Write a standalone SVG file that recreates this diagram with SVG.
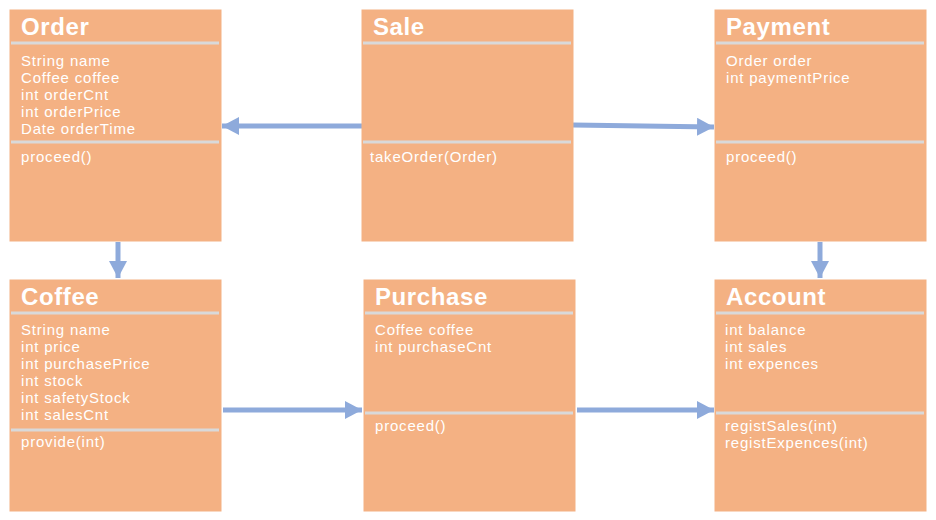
<svg xmlns="http://www.w3.org/2000/svg" width="936" height="520" viewBox="0 0 936 520">
<style>
.box{fill:#f4b183;stroke:#f4b183;stroke-width:1}
.div{stroke:#d9d9d9;stroke-width:3}
.title{font-family:"Liberation Sans",Arial,sans-serif;font-weight:bold;font-size:24px;fill:#ffffff;letter-spacing:0.6px}
.txt{font-family:"Liberation Sans",Arial,sans-serif;font-size:15px;fill:#ffffff;letter-spacing:0.8px}
.con{stroke:#8eaadb;stroke-width:5;fill:none;marker-end:url(#ah)}
</style>
<defs>
<marker id="ah" viewBox="0 0 10 10" refX="10" refY="5" markerWidth="3.4" markerHeight="3.6" orient="auto" markerUnits="strokeWidth" preserveAspectRatio="none">
<path d="M0,0 L10,5 L0,10 Z" fill="#8eaadb"/>
</marker>
</defs>
<g id="connectors">
<line class="con" x1="362" y1="126" x2="222" y2="126"/>
<line class="con" x1="573" y1="125" x2="714" y2="127"/>
<line class="con" x1="118" y1="242" x2="118" y2="278"/>
<line class="con" x1="820" y1="242" x2="820" y2="278"/>
<line class="con" x1="223" y1="410" x2="362" y2="410"/>
<line class="con" x1="577" y1="410" x2="714" y2="410"/>
</g>
<g id="order">
<rect class="box" x="10" y="10" width="211" height="231"/>
<line class="div" x1="11" y1="43" x2="219" y2="43"/>
<line class="div" x1="11" y1="142" x2="219" y2="142"/>
<text class="title" x="21" y="35">Order</text>
<text class="txt" x="21" y="66">String name</text>
<text class="txt" x="21" y="83">Coffee coffee</text>
<text class="txt" x="21" y="100">int orderCnt</text>
<text class="txt" x="21" y="117">int orderPrice</text>
<text class="txt" x="21" y="134">Date orderTime</text>
<text class="txt" x="21" y="162">proceed()</text>
</g>
<g id="sale">
<rect class="box" x="362" y="10" width="211" height="231"/>
<line class="div" x1="363" y1="43" x2="571" y2="43"/>
<line class="div" x1="363" y1="142" x2="571" y2="142"/>
<text class="title" x="373" y="35">Sale</text>
<text class="txt" x="370" y="162">takeOrder(Order)</text>
</g>
<g id="payment">
<rect class="box" x="715" y="10" width="211" height="231"/>
<line class="div" x1="716" y1="43" x2="924" y2="43"/>
<line class="div" x1="716" y1="142" x2="924" y2="142"/>
<text class="title" x="726" y="35">Payment</text>
<text class="txt" x="726" y="66">Order order</text>
<text class="txt" x="726" y="83">int paymentPrice</text>
<text class="txt" x="726" y="162">proceed()</text>
</g>
<g id="coffee">
<rect class="box" x="10" y="280" width="211" height="231"/>
<line class="div" x1="11" y1="313" x2="219" y2="313"/>
<line class="div" x1="11" y1="430" x2="219" y2="430"/>
<text class="title" x="21" y="305">Coffee</text>
<text class="txt" x="21" y="335">String name</text>
<text class="txt" x="21" y="352">int price</text>
<text class="txt" x="21" y="369">int purchasePrice</text>
<text class="txt" x="21" y="386">int stock</text>
<text class="txt" x="21" y="403">int safetyStock</text>
<text class="txt" x="21" y="420">int salesCnt</text>
<text class="txt" x="21" y="447">provide(int)</text>
</g>
<g id="purchase">
<rect class="box" x="364" y="280" width="211" height="231"/>
<line class="div" x1="365" y1="313" x2="573" y2="313"/>
<line class="div" x1="365" y1="413" x2="573" y2="413"/>
<text class="title" x="375" y="305">Purchase</text>
<text class="txt" x="375" y="335">Coffee coffee</text>
<text class="txt" x="375" y="352">int purchaseCnt</text>
<text class="txt" x="375" y="431">proceed()</text>
</g>
<g id="account">
<rect class="box" x="715" y="280" width="211" height="231"/>
<line class="div" x1="716" y1="313" x2="924" y2="313"/>
<line class="div" x1="716" y1="413" x2="924" y2="413"/>
<text class="title" x="726" y="305">Account</text>
<text class="txt" x="725" y="335">int balance</text>
<text class="txt" x="725" y="352">int sales</text>
<text class="txt" x="725" y="369">int expences</text>
<text class="txt" x="725" y="431">registSales(int)</text>
<text class="txt" x="725" y="448">registExpences(int)</text>
</g>
</svg>
